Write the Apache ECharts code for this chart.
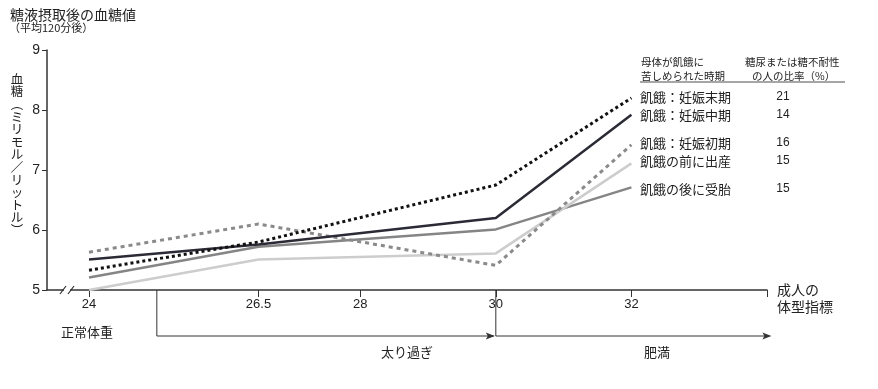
<!DOCTYPE html>
<html><head><meta charset="utf-8">
<script src="https://cdn.jsdelivr.net/npm/echarts@6/dist/echarts.min.js"></script>
<style>html,body{margin:0;padding:0;background:#fff}#c{width:878px;height:389px}</style>
</head><body><div id="c"></div>
<script>
// ---- data ----
const bmi = [24, 26.5, 30, 32];
const lateGestation  = [5.33, 5.80, 6.75, 8.20];
const midGestation   = [5.51, 5.76, 6.20, 7.92];
const earlyGestation = [5.63, 6.10, 5.41, 7.42];
const bornBefore     = [5.00, 5.51, 5.61, 7.11];
const conceivedAfter = [5.21, 5.72, 6.01, 6.71];
const seriesNames = ['飢餓：妊娠末期', '飢餓：妊娠中期', '飢餓：妊娠初期', '飢餓の前に出産', '飢餓の後に受胎'];
const rates = ['21', '14', '16', '15', '15'];
const xTickLabels = [24, 26.5, 28, 30, 32];
const xTickMarks = [24, 26.5, 28, 30, 32, 34];
const yTicks = [5, 6, 7, 8, 9];

const JP = '"Noto Sans CJK JP", sans-serif';
const NUM = '"Liberation Sans Narrow", "Liberation Sans", Arial, sans-serif';

const allSeries = [lateGestation, midGestation, earlyGestation, bornBefore, conceivedAfter];
const styles = [
  {color: '#111111', width: 3, type: [3, 3]},
  {color: '#2b2b36', width: 2.5, type: 'solid'},
  {color: '#8a8a8a', width: 3, type: [4, 4]},
  {color: '#cdcdcd', width: 2.5, type: 'solid'},
  {color: '#858585', width: 2.5, type: 'solid'}
];
const labelY = [97, 115, 143, 161, 189];

const chart = echarts.init(document.getElementById('c'), null, {renderer: 'canvas'});
const option = {
  animation: false,
  backgroundColor: '#fff',
  grid: {left: 47, right: 111, top: 50, bottom: 99, containLabel: false},
  xAxis: {
    type: 'value', min: 23.38, max: 34,
    splitLine: {show: false},
    axisLine: {show: true, lineStyle: {color: '#333', width: 1.5}},
    axisTick: {show: true, length: 7, lineStyle: {color: '#333', width: 1}, customValues: xTickMarks},
    axisLabel: {show: true, customValues: xTickLabels, margin: 8, fontSize: 13, color: '#222', fontFamily: NUM,
      formatter: v => String(v)}
  },
  yAxis: {
    type: 'value', min: 5, max: 9, interval: 1,
    splitLine: {show: false},
    axisLine: {show: true, lineStyle: {color: '#333', width: 1.5}},
    axisTick: {show: true, length: 5, lineStyle: {color: '#333', width: 1}},
    axisLabel: {margin: 7, fontSize: 14, color: '#222', fontFamily: NUM}
  },
  series: allSeries.map((vals, i) => ({
    type: 'line', name: seriesNames[i],
    data: bmi.map((x, j) => [x, vals[j]]),
    symbol: 'none',
    lineStyle: styles[i],
    z: 10 - i
  })),
  graphic: []
};
chart.setOption(option);

function P(x, y) { return chart.convertToPixel({gridIndex: 0}, [x, y]); }
const g = [];
const txt = (x, y, text, size, extra) => g.push({type: 'text', x, y, style: Object.assign({text, font: size + 'px ' + JP, fill: '#222', textVerticalAlign: 'middle'}, extra || {})});

// title
txt(10, 15, '糖液摂取後の血糖値', 14);
txt(9, 28, '（平均120分後）', 11);

// vertical y axis name
const yName = ['血','糖','︵','ミ','リ','モ','ル','／','リ','ッ','ト','ル','︶'];
yName.forEach((ch, i) => txt(17, 79 + i * 12.6, ch, 12.5, {textAlign: 'center'}));

// x axis name
txt(777, 290, '成人の', 14);
txt(777, 307, '体型指標', 14);

// legend table header
txt(641, 62, '母体が飢餓に', 10.5);
txt(641, 76, '苦しめられた時期', 10.5);
txt(745, 62, '糖尿または糖不耐性', 10.5);
txt(752, 76, 'の人の比率（%）', 10.5);
g.push({type: 'line', shape: {x1: 640, y1: 82, x2: 845, y2: 82}, style: {stroke: '#888', lineWidth: 1.5}});
seriesNames.forEach((n, i) => {
  txt(640, labelY[i], n, 13);
  g.push({type: 'text', x: 783, y: labelY[i], style: {text: rates[i], font: '12px ' + NUM, fill: '#222', textAlign: 'center', textVerticalAlign: 'middle'}});
});

// axis break mark
const o = P(23.38, 5);
g.push({type: 'rect', shape: {x: 64, y: o[1] - 3, width: 6, height: 6}, style: {fill: '#fff'}, z: 100});
g.push({type: 'line', shape: {x1: 60, y1: o[1] + 4, x2: 66, y2: o[1] - 4}, style: {stroke: '#333', lineWidth: 1.2}, z: 101});
g.push({type: 'line', shape: {x1: 68, y1: o[1] + 4, x2: 74, y2: o[1] - 4}, style: {stroke: '#333', lineWidth: 1.2}, z: 101});

// category brackets
const arrowY = 336;
const b1 = P(25, 5), b2 = P(30, 5), b3 = P(34.05, 5);
const seg = (x1, y1, x2, y2) => g.push({type: 'line', shape: {x1, y1, x2, y2}, style: {stroke: '#333', lineWidth: 1}});
const arrow = (x, y) => g.push({type: 'polygon', shape: {points: [[x, y], [x - 9, y - 3.5], [x - 7, y], [x - 9, y + 3.5]]}, style: {fill: '#333'}});
seg(b1[0], b1[1], b1[0], arrowY); seg(b1[0], arrowY, b2[0] - 2, arrowY); arrow(b2[0] - 1, arrowY);
seg(b2[0], b2[1], b2[0], arrowY); seg(b2[0], arrowY, b3[0] - 2, arrowY); arrow(b3[0] + 1, arrowY);

txt(61, 332, '正常体重', 13);
txt(407, 352, '太り過ぎ', 13, {textAlign: 'center'});
txt(657, 352, '肥満', 13, {textAlign: 'center'});

chart.setOption({graphic: g});
</script></body></html>
